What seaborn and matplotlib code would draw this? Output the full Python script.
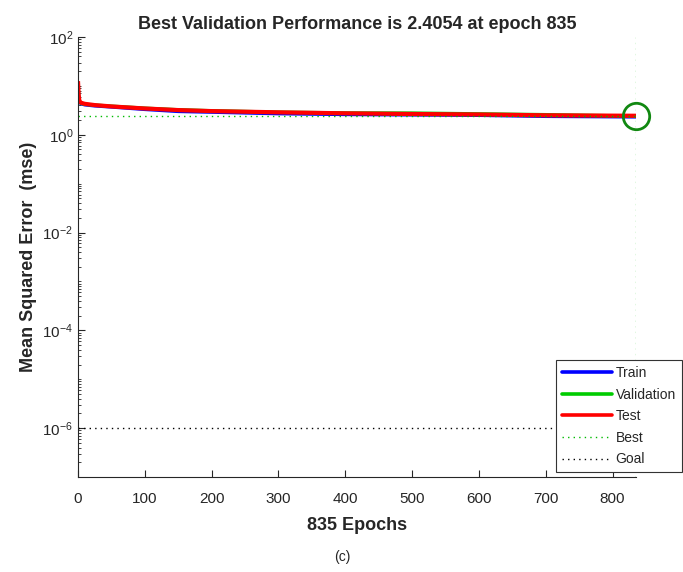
import numpy as np
import pandas as pd
import matplotlib
matplotlib.use("Agg")
import matplotlib.pyplot as plt
import seaborn as sns
from matplotlib.lines import Line2D
from matplotlib.ticker import LogLocator, NullFormatter

sns.set_style("white")
plt.rcParams['font.family'] = ['Liberation Sans', 'DejaVu Sans']

# Data
epochs = [0, 1, 2, 3, 5, 10, 25, 50, 100, 150, 200, 300, 400, 500, 600, 700, 835]
train = [10.0, 6.0, 4.8, 4.5, 4.3, 4.1, 3.9, 3.7, 3.3, 3.0, 2.9, 2.7, 2.6, 2.55, 2.5, 2.38, 2.32]
validation = [10.5, 6.2, 4.9, 4.6, 4.4, 4.2, 4.05, 3.85, 3.5, 3.25, 3.1, 2.9, 2.8, 2.78, 2.68, 2.58, 2.4054]
test = [12.5, 6.5, 5.0, 4.7, 4.5, 4.3, 4.05, 3.8, 3.45, 3.2, 3.05, 2.88, 2.75, 2.66, 2.6, 2.5, 2.45]
best_epoch = 835
best_perf = 2.4054
goal = 1e-6

series_names = ["Train", "Validation", "Test"]
series_colors = ["#0000ff", "#00cc00", "#ff0000"]
series_widths = [2.4, 2.4, 3.0]

fig = plt.figure(figsize=(6.83, 5.72), dpi=100)
ax = fig.add_axes([78/683, 1 - 477/572, (636 - 78)/683, (477 - 37)/572])

for name, vals, col, lw in zip(series_names, [train, validation, test],
                               series_colors, series_widths):
    d = pd.DataFrame({"Epoch": epochs, "MSE": vals})
    sns.lineplot(data=d, x="Epoch", y="MSE", color=col, linewidth=lw, ax=ax,
                 estimator=None, sort=False, solid_capstyle="butt")

ax.axhline(best_perf, color="#00bb00", linestyle=(0, (1, 3)), linewidth=1.0)
ax.axvline(best_epoch, color="#00bb00", linestyle=(0, (1, 3)), linewidth=1.0, alpha=0.6)
ax.axhline(goal, color="black", linestyle=(0, (1, 3)), linewidth=1.0)
ax.plot([best_epoch], [best_perf], marker="o", markersize=19, markerfacecolor="none",
        markeredgecolor="#118811", markeredgewidth=2.0, clip_on=False, zorder=5)

ax.set_yscale("log")
ax.set_ylim(1e-7, 1e2)
ax.set_xlim(0, 835)
ax.set_xticks([0, 100, 200, 300, 400, 500, 600, 700, 800])
ax.set_yticks([1e-6, 1e-4, 1e-2, 1e0, 1e2])
ax.yaxis.set_minor_locator(LogLocator(base=10, subs=np.arange(1, 10), numticks=30))
ax.yaxis.set_minor_formatter(NullFormatter())

for s in ["top", "right"]:
    ax.spines[s].set_visible(False)
for s in ["left", "bottom"]:
    ax.spines[s].set_color("#262626")
    ax.spines[s].set_linewidth(0.8)

ax.tick_params(axis="both", which="major", direction="in", length=5, width=0.8,
               labelsize=11, colors="#262626", left=True, bottom=True)
ax.tick_params(axis="y", which="minor", direction="in", length=2.5, width=0.6,
               colors="#262626", left=True)
ax.tick_params(axis="x", pad=11)

ax.set_title("Best Validation Performance is 2.4054 at epoch 835", fontsize=13,
             fontweight="bold", pad=6)
ax.set_xlabel("835 Epochs", fontsize=13, fontweight="bold", color="#262626", labelpad=8)
ax.set_ylabel("Mean Squared Error  (mse)", fontsize=13, fontweight="bold",
              color="#262626", labelpad=4)

handles = [
    Line2D([], [], color="#0000ff", linewidth=2.6),
    Line2D([], [], color="#00cc00", linewidth=2.6),
    Line2D([], [], color="#ff0000", linewidth=2.6),
    Line2D([], [], color="#00bb00", linestyle=(0, (1, 3)), linewidth=1.0),
    Line2D([], [], color="black", linestyle=(0, (1, 3)), linewidth=1.0),
]
leg = fig.legend(handles, ["Train", "Validation", "Test", "Best", "Goal"],
                 loc="lower left", bbox_to_anchor=(556/683, 1 - 472/572),
                 fontsize=10, frameon=True, fancybox=False, framealpha=1,
                 edgecolor="#333333", handlelength=3.6, handletextpad=0.3,
                 borderpad=0.4, labelspacing=0.55, borderaxespad=0)
leg.get_frame().set_linewidth(0.8)

fig.text(342/683, 1 - 557/572, "(c)", ha="center", va="center", fontsize=10)

fig.savefig("out.png", dpi=100)
